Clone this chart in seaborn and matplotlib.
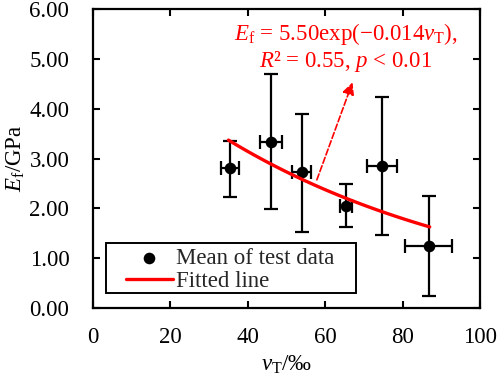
import numpy as np
import pandas as pd
import matplotlib
matplotlib.use('Agg')
import matplotlib.pyplot as plt
import seaborn as sns
from matplotlib.patches import Rectangle

# mean values
vt_mean = [35.4, 46.0, 53.9, 65.4, 74.7, 86.7]
vt_err = [2.2, 2.9, 2.4, 1.6, 3.9, 6.0]
ef_mean = [2.80, 3.34, 2.72, 2.05, 2.85, 1.25]
ef_low = [2.23, 1.98, 1.52, 1.62, 1.46, 0.24]
ef_high = [3.35, 4.69, 3.90, 2.48, 4.23, 2.25]

# fitted curve Ef = a * exp(-b * vT)
fit_a = 5.50
fit_b = 0.014
fit_range = [35.0, 87.0]

df = pd.DataFrame({'vT': vt_mean, 'Ef': ef_mean})
fit_x = np.linspace(fit_range[0], fit_range[1], 60)
fit_df = pd.DataFrame({'vT': fit_x, 'Ef': fit_a * np.exp(-fit_b * fit_x)})

sns.set_theme(style='ticks')
plt.rcParams['font.family'] = ['Liberation Serif', 'DejaVu Serif']
plt.rcParams['mathtext.fontset'] = 'custom'
plt.rcParams['mathtext.rm'] = 'Liberation Serif'
plt.rcParams['mathtext.it'] = 'Liberation Serif:italic'

fs = 16.5

fig = plt.figure(figsize=(4.98, 3.82), dpi=100)
ax = fig.add_axes([0.1867, 0.1937, 0.7772, 0.7827])

yerr = [np.array(ef_mean) - np.array(ef_low), np.array(ef_high) - np.array(ef_mean)]
ax.errorbar(vt_mean, ef_mean, xerr=vt_err, yerr=yerr, fmt='none', ecolor='black',
            elinewidth=1.6, capsize=5, capthick=1.6, zorder=2)
sns.scatterplot(data=df, x='vT', y='Ef', ax=ax, color='black', s=70, edgecolor='black',
                linewidth=0, zorder=3, label='Mean of test data')
sns.lineplot(data=fit_df, x='vT', y='Ef', ax=ax, color='#ff0000', linewidth=2.4,
             zorder=4, label='Fitted line')

ax.annotate('', xy=(67.3, 4.58), xytext=(57.6, 2.52),
            arrowprops=dict(arrowstyle='-|>', color='#ff0000', linestyle='--', lw=1.2,
                            mutation_scale=18))
ax.text(65.3, 5.22, '$E_{\\mathrm{f}}$ = 5.50exp(\u22120.014$v_{\\mathrm{T}}$),\n$R$\u00b2 = 0.55, $p$ < 0.01',
        color='#ff0000', fontsize=fs, ha='center', va='center', linespacing=1.1)

ax.set_xlim(0, 100)
ax.set_ylim(0, 6)
ax.set_xticks([0, 20, 40, 60, 80, 100])
ax.set_yticks([0, 1, 2, 3, 4, 5, 6])
ax.set_yticklabels([f'{v:.2f}' for v in ax.get_yticks()])
ax.tick_params(direction='in', length=5, width=1.5, top=True, right=True,
               labelsize=fs, colors='black', pad=17)
ax.tick_params(axis='x', pad=14)
for s in ax.spines.values():
    s.set_linewidth(1.6)
    s.set_color('black')

ax.set_xlabel('$v_{\\mathrm{T}}$/\u2030', fontsize=fs, color='black', labelpad=4)
ax.set_ylabel('$E_{\\mathrm{f}}$/GPa', fontsize=fs, color='black', labelpad=2)

# legend without its own frame, boxed by a rectangle like the reference
leg = ax.legend(loc='lower left', bbox_to_anchor=(0.085, 0.054), fontsize=fs,
                frameon=False, borderpad=0, handlelength=2.05, labelspacing=0.1,
                handletextpad=0.15, borderaxespad=0)
ax.add_patch(Rectangle((0.0336, 0.050), 0.646, 0.168, transform=ax.transAxes,
                       facecolor='white', edgecolor='black', linewidth=1.4, zorder=5))
leg.set_zorder(6)

fig.savefig('out.png', dpi=100)
